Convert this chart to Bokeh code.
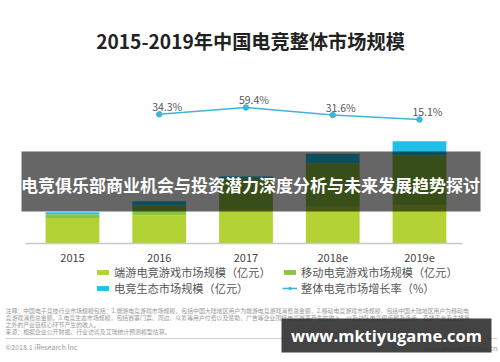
from bokeh.plotting import figure
from bokeh.models import (Range1d, FixedTicker, ColumnDataSource, LabelSet, Label,
                          Legend, LegendItem, BoxAnnotation, LinearAxis)
from bokeh.core.properties import value
from bokeh.embed import file_html
from bokeh.resources import INLINE

# ---------------- data ----------------
years = ["2015", "2016", "2017", "2018e", "2019e"]
pc_esports = [250, 274, 330, 360, 375]        # 端游电竞游戏市场规模（亿元）
mobile_esports = [36, 98, 300, 425, 485]      # 移动电竞游戏市场规模（亿元）
ecosystem = [20, 40, 26, 92, 140]             # 电竞生态市场规模（亿元）
growth_years = ["2016", "2017", "2018e", "2019e"]
growth_rate = [34.3, 59.4, 31.6, 15.1]        # 整体电竞市场增长率（%）

title_text = "2015-2019年中国电竞整体市场规模"
legend_labels = ["端游电竞游戏市场规模（亿元）", "移动电竞游戏市场规模（亿元）",
                 "电竞生态市场规模（亿元）", "整体电竞市场增长率（%）"]
banner_text = "电竞俱乐部商业机会与投资潜力深度分析与未来发展趋势探讨"
note_lines = [
    "注释：中国电子竞技行业市场规模包括：1.端游电竞游戏市场规模，包括中国大陆地区用户为端游电竞游戏消费总金额，2.移动电竞游戏市场规模，包括中国大陆地区用户为移动电",
    "竞游戏消费总金额。3.电竞生态市场规模，包括赛事门票、周边、众筹等用户付费以及赞助、广告等企业围绕电竞赛事产生的收入，以及战队电竞俱乐部及选手、直播平台及主播等",
    "之外的产业链核心环节产生的收入。",
    "来源：根据企业公开财报、行业访谈及艾瑞统计预测模型估算。",
]
copyright_text = "©2018.1 iResearch Inc"
site_text = "www.iresearch.com.cn"
watermark_text = "www.mktiyugame.com"

# ---------------- styles ----------------
C_PC = "#B3D234"
C_MOB = "#8CC43E"
C_ECO = "#1EC0EA"
C_LINE = "#40B4D8"
CJK = "Noto Sans CJK SC"
W, H = 500, 362


def sx(X):
    return X


def sy(Y):
    return H - Y


idx = list(range(len(years)))
gidx = [years.index(y) for y in growth_years]

p = figure(width=W, height=H, title=None,
           x_range=Range1d(-0.830, 4.934), y_range=Range1d(-1163.2, 2375.4),
           output_backend="svg", toolbar_location=None,
           x_axis_location=None, y_axis_location=None, min_border=0,
           outline_line_color=None, background_fill_color="white")
p.xgrid.visible = False
p.ygrid.visible = False
p.extra_y_ranges = {"pct": Range1d(-881.5, 454.2)}

src = ColumnDataSource(dict(x=idx, pc=pc_esports, mob=mobile_esports, eco=ecosystem))
bars = p.vbar_stack(["pc", "mob", "eco"], x="x", width=0.62, source=src,
                    fill_color=[C_PC, C_MOB, C_ECO], line_color=None)

gsrc = ColumnDataSource(dict(x=gidx, g=growth_rate, t=[f"{v}%" for v in growth_rate]))
ln = p.line("x", "g", source=gsrc, y_range_name="pct", line_color=C_LINE, line_width=1.6)
pts = p.scatter("x", "g", source=gsrc, y_range_name="pct", size=5.5,
                fill_color=C_LINE, line_color=C_LINE)
p.add_layout(LabelSet(x="x", y="g", text="t", source=gsrc, y_range_name="pct",
                      x_offset=8, y_offset=8, text_align="center", text_baseline="middle",
                      text_font=value(CJK), text_font_size="10.5px", text_color="#555555"))

ax = LinearAxis(fixed_location=0, bounds=(-0.542, 4.496))
ax.ticker = FixedTicker(ticks=idx)
ax.major_label_overrides = {i: y for i, y in zip(idx, years)}
ax.major_tick_line_color = None
ax.minor_tick_line_color = None
ax.axis_line_color = "#c8c8c8"
ax.axis_line_width = 1.5
ax.major_label_text_font = CJK
ax.major_label_text_font_size = "11px"
ax.major_label_text_color = "#444444"
ax.major_label_standoff = 4
p.add_layout(ax, "below")

legend = Legend(items=[LegendItem(label=legend_labels[0], renderers=[bars[0]]),
                       LegendItem(label=legend_labels[1], renderers=[bars[1]]),
                       LegendItem(label=legend_labels[2], renderers=[bars[2]]),
                       LegendItem(label=legend_labels[3], renderers=[ln, pts])],
                orientation="horizontal", ncols=2,
                location=(sx(95), sy(296)), margin=0, padding=0, spacing=0,
                border_line_color=None, background_fill_alpha=0,
                glyph_width=15, glyph_height=6, label_standoff=4,
                label_height=13, label_width=168,
                label_text_font=CJK, label_text_font_size="11.2px",
                label_text_color="#555555")
p.add_layout(legend)

# title
p.add_layout(Label(x=sx(250), y=sy(40), x_units="screen", y_units="screen", text=title_text,
                   text_align="center", text_baseline="middle", text_font=CJK,
                   text_font_style="bold", text_font_size="19.2px", text_color="#222222"))

# banner overlay
p.add_layout(BoxAnnotation(left=sx(21), right=sx(480), top=sy(151), bottom=sy(211),
                           left_units="screen", right_units="screen",
                           top_units="screen", bottom_units="screen",
                           fill_color="black", fill_alpha=0.6, line_color=None))
p.add_layout(Label(x=sx(250), y=sy(184), x_units="screen", y_units="screen", text=banner_text,
                   text_align="center", text_baseline="middle", text_font=CJK,
                   text_font_style="bold", text_font_size="17px", text_color="white"))

# footnotes
for Y, t in zip([310, 316.5, 323.5, 330.5], note_lines):
    p.add_layout(Label(x=sx(5), y=sy(Y), x_units="screen", y_units="screen", text=t,
                       text_align="left", text_baseline="middle", text_font=CJK,
                       text_font_size="5.9px", text_color="#999999"))
p.add_layout(BoxAnnotation(left=sx(5), right=sx(497), top=sy(337.5), bottom=sy(338.5),
                           left_units="screen", right_units="screen",
                           top_units="screen", bottom_units="screen",
                           fill_color="#d0d0d0", fill_alpha=1, line_color=None))
p.add_layout(Label(x=sx(5), y=sy(346), x_units="screen", y_units="screen", text=copyright_text,
                   text_align="left", text_baseline="middle", text_font=CJK,
                   text_font_size="7px", text_color="#999999"))
p.add_layout(Label(x=sx(497), y=sy(347), x_units="screen", y_units="screen", text=site_text,
                   text_align="right", text_baseline="middle", text_font=CJK,
                   text_font_size="7px", text_color="#999999"))

# watermark
p.add_layout(BoxAnnotation(left=sx(281), right=sx(491), top=sy(318), bottom=sy(352),
                           left_units="screen", right_units="screen",
                           top_units="screen", bottom_units="screen",
                           fill_color="#2f2f2f", fill_alpha=0.9, line_color=None))
p.add_layout(Label(x=sx(386), y=sy(335), x_units="screen", y_units="screen", text=watermark_text,
                   text_align="center", text_baseline="middle", text_font="Open Sans",
                   text_font_style="bold", text_font_size="16.5px", text_color="white"))

open("out.html", "w").write(file_html(p, INLINE))
